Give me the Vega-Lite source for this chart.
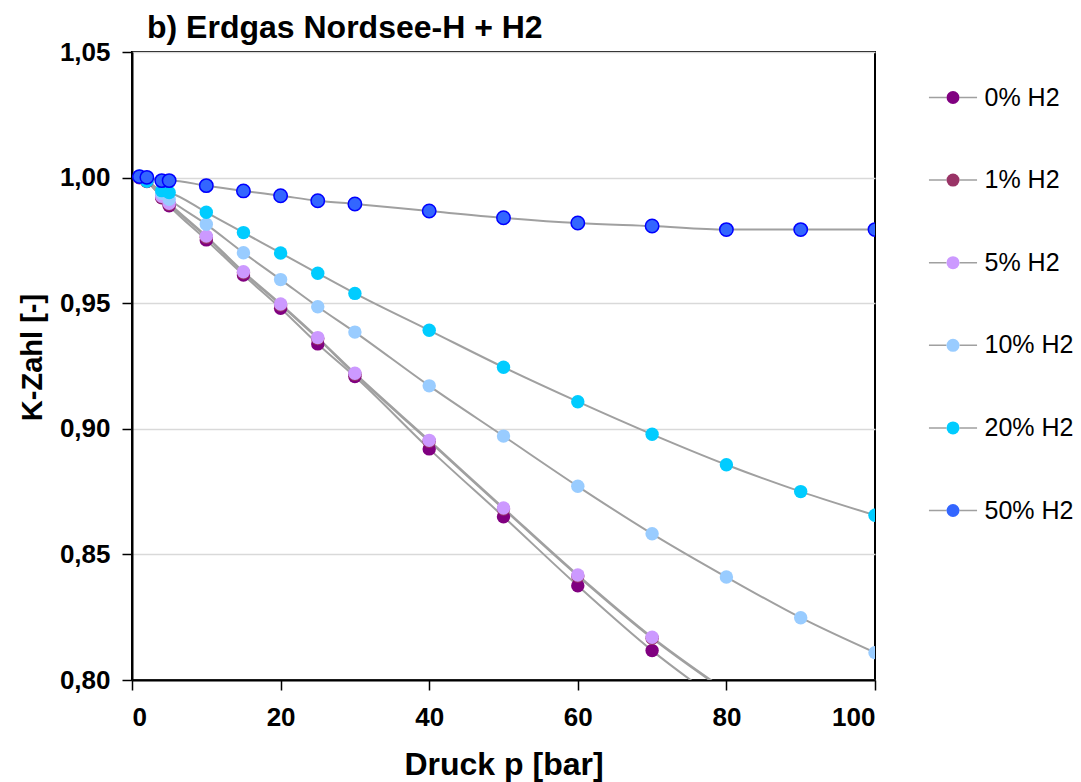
{
  "$schema": "https://vega.github.io/schema/vega-lite/v6.json",
  "width": 743,
  "height": 628,
  "autosize": {"type": "none"},
  "padding": {"left": 132, "top": 52, "right": 206, "bottom": 102},
  "background": "white",
  "config": {
    "font": "Liberation Sans",
    "view": {"stroke": "black", "strokeWidth": 2},
    "axis": {
      "domainColor": "black",
      "domainWidth": 2,
      "tickColor": "black",
      "tickWidth": 1.5,
      "tickSize": 10,
      "labelFont": "Liberation Sans",
      "labelFontWeight": "bold",
      "labelFontSize": 26,
      "labelColor": "black",
      "titleFont": "Liberation Sans",
      "titleFontWeight": "bold",
      "titleFontSize": 32,
      "titleColor": "black"
    },
    "legend": {"labelFont": "Liberation Sans", "labelColor": "black"}
  },
  "title": {
    "text": "b) Erdgas Nordsee-H + H2",
    "anchor": "start",
    "frame": "group",
    "dx": 15,
    "offset": -6,
    "font": "Liberation Sans",
    "fontSize": 32,
    "fontWeight": "bold",
    "color": "black"
  },
  "data": {
    "values": [
      {"s": "0% H2", "p": 1, "k": 1.0002},
      {"s": "0% H2", "p": 2, "k": 0.9985},
      {"s": "0% H2", "p": 4, "k": 0.9920},
      {"s": "0% H2", "p": 5, "k": 0.9888},
      {"s": "0% H2", "p": 10, "k": 0.9752},
      {"s": "0% H2", "p": 15, "k": 0.9612},
      {"s": "0% H2", "p": 20, "k": 0.9480},
      {"s": "0% H2", "p": 25, "k": 0.9338},
      {"s": "0% H2", "p": 30, "k": 0.9208},
      {"s": "0% H2", "p": 40, "k": 0.8920},
      {"s": "0% H2", "p": 50, "k": 0.8650},
      {"s": "0% H2", "p": 60, "k": 0.8375},
      {"s": "0% H2", "p": 70, "k": 0.8117},
      {"s": "0% H2", "p": 80, "k": 0.7897},
      {"s": "1% H2", "p": 1, "k": 0.9999},
      {"s": "1% H2", "p": 2, "k": 0.9984},
      {"s": "1% H2", "p": 4, "k": 0.9922},
      {"s": "1% H2", "p": 5, "k": 0.9894},
      {"s": "1% H2", "p": 10, "k": 0.9763},
      {"s": "1% H2", "p": 15, "k": 0.9621},
      {"s": "1% H2", "p": 20, "k": 0.9493},
      {"s": "1% H2", "p": 25, "k": 0.9359},
      {"s": "1% H2", "p": 30, "k": 0.9217},
      {"s": "1% H2", "p": 40, "k": 0.8950},
      {"s": "1% H2", "p": 50, "k": 0.8681},
      {"s": "1% H2", "p": 60, "k": 0.8414},
      {"s": "1% H2", "p": 70, "k": 0.8166},
      {"s": "1% H2", "p": 80, "k": 0.7953},
      {"s": "5% H2", "p": 1, "k": 1.0003},
      {"s": "5% H2", "p": 2, "k": 0.9988},
      {"s": "5% H2", "p": 4, "k": 0.9926},
      {"s": "5% H2", "p": 5, "k": 0.9898},
      {"s": "5% H2", "p": 10, "k": 0.9767},
      {"s": "5% H2", "p": 15, "k": 0.9625},
      {"s": "5% H2", "p": 20, "k": 0.9497},
      {"s": "5% H2", "p": 25, "k": 0.9363},
      {"s": "5% H2", "p": 30, "k": 0.9221},
      {"s": "5% H2", "p": 40, "k": 0.8954},
      {"s": "5% H2", "p": 50, "k": 0.8685},
      {"s": "5% H2", "p": 60, "k": 0.8418},
      {"s": "5% H2", "p": 70, "k": 0.8170},
      {"s": "5% H2", "p": 80, "k": 0.7957},
      {"s": "10% H2", "p": 1, "k": 1.0004},
      {"s": "10% H2", "p": 2, "k": 0.9990},
      {"s": "10% H2", "p": 4, "k": 0.9938},
      {"s": "10% H2", "p": 5, "k": 0.9914},
      {"s": "10% H2", "p": 10, "k": 0.9814},
      {"s": "10% H2", "p": 15, "k": 0.9701},
      {"s": "10% H2", "p": 20, "k": 0.9594},
      {"s": "10% H2", "p": 25, "k": 0.9486},
      {"s": "10% H2", "p": 30, "k": 0.9385},
      {"s": "10% H2", "p": 40, "k": 0.9171},
      {"s": "10% H2", "p": 50, "k": 0.8971},
      {"s": "10% H2", "p": 60, "k": 0.8771},
      {"s": "10% H2", "p": 70, "k": 0.8582},
      {"s": "10% H2", "p": 80, "k": 0.8410},
      {"s": "10% H2", "p": 90, "k": 0.8248},
      {"s": "10% H2", "p": 100, "k": 0.8109},
      {"s": "20% H2", "p": 1, "k": 1.0006},
      {"s": "20% H2", "p": 2, "k": 0.9985},
      {"s": "20% H2", "p": 4, "k": 0.9948},
      {"s": "20% H2", "p": 5, "k": 0.9941},
      {"s": "20% H2", "p": 10, "k": 0.9862},
      {"s": "20% H2", "p": 15, "k": 0.9781},
      {"s": "20% H2", "p": 20, "k": 0.9700},
      {"s": "20% H2", "p": 25, "k": 0.9619},
      {"s": "20% H2", "p": 30, "k": 0.9539},
      {"s": "20% H2", "p": 40, "k": 0.9392},
      {"s": "20% H2", "p": 50, "k": 0.9245},
      {"s": "20% H2", "p": 60, "k": 0.9108},
      {"s": "20% H2", "p": 70, "k": 0.8978},
      {"s": "20% H2", "p": 80, "k": 0.8857},
      {"s": "20% H2", "p": 90, "k": 0.8750},
      {"s": "20% H2", "p": 100, "k": 0.8656},
      {"s": "50% H2", "p": 1, "k": 1.0004},
      {"s": "50% H2", "p": 2, "k": 1.0001},
      {"s": "50% H2", "p": 4, "k": 0.9988},
      {"s": "50% H2", "p": 5, "k": 0.9988},
      {"s": "50% H2", "p": 10, "k": 0.9968},
      {"s": "50% H2", "p": 15, "k": 0.9947},
      {"s": "50% H2", "p": 20, "k": 0.9928},
      {"s": "50% H2", "p": 25, "k": 0.9908},
      {"s": "50% H2", "p": 30, "k": 0.9895},
      {"s": "50% H2", "p": 40, "k": 0.9867},
      {"s": "50% H2", "p": 50, "k": 0.9840},
      {"s": "50% H2", "p": 60, "k": 0.9819},
      {"s": "50% H2", "p": 70, "k": 0.9807},
      {"s": "50% H2", "p": 80, "k": 0.9793},
      {"s": "50% H2", "p": 90, "k": 0.9793},
      {"s": "50% H2", "p": 100, "k": 0.9793}
    ]
  },
  "encoding": {
    "x": {
      "field": "p",
      "type": "quantitative",
      "scale": {"domain": [0, 100], "nice": false, "zero": false},
      "axis": {
        "title": "Druck p [bar]",
        "values": [0, 20, 40, 60, 80, 100],
        "grid": false,
        "labelPadding": 14,
        "titleY": 94,
        "titleBaseline": "alphabetic"
      }
    },
    "y": {
      "field": "k",
      "type": "quantitative",
      "scale": {"domain": [0.8, 1.05], "nice": false, "zero": false},
      "axis": {
        "title": "K-Zahl [-]",
        "values": [0.8, 0.85, 0.9, 0.95, 1.0, 1.05],
        "labelExpr": "replace(format(datum.value, '.2f'), '.', ',')",
        "grid": true,
        "gridColor": "#D9D9D9",
        "gridWidth": 1.5,
        "labelPadding": 12,
        "titleFontSize": 29,
        "titleX": -91,
        "titleY": 305,
        "titleBaseline": "alphabetic"
      }
    }
  },
  "layer": [
    {
      "mark": {"type": "line", "interpolate": "monotone", "clip": true, "strokeWidth": 2},
      "encoding": {
        "stroke": {
          "field": "s",
          "type": "nominal",
          "sort": ["0% H2", "1% H2", "5% H2", "10% H2", "20% H2", "50% H2"],
          "scale": {"range": ["#A0A0A0", "#A0A0A0", "#A0A0A0", "#A0A0A0", "#A0A0A0", "#A0A0A0"]},
          "legend": {
            "orient": "none",
            "legendX": 808.5,
            "legendY": 33,
            "title": null,
            "symbolType": "M-3.7,0L-1,0M1,0L3.7,0",
            "symbolSize": 169,
            "symbolStrokeWidth": 1.5,
            "labelFontSize": 25,
            "labelOpacity": 0,
            "labelOffset": 19,
            "rowPadding": 56.6
          }
        }
      }
    },
    {
      "mark": {"type": "point", "filled": true, "size": 180, "opacity": 1, "clip": true, "strokeWidth": 1.5},
      "encoding": {
        "fill": {
          "field": "s",
          "type": "nominal",
          "scale": {
            "domain": ["0% H2", "1% H2", "5% H2", "10% H2", "20% H2", "50% H2"],
            "range": ["#800080", "#993366", "#CC99FF", "#99CCFF", "#00CCFF", "#3366FF"]
          },
          "legend": {
            "orient": "none",
            "legendX": 808.5,
            "legendY": 33,
            "title": null,
            "symbolType": "circle",
            "symbolSize": 169,
            "symbolOpacity": 1,
            "labelFontSize": 25,
            "labelOffset": 19,
            "rowPadding": 56.6,
            "encode": {
              "symbols": {
                "update": {
                  "stroke": {"signal": "datum.value === '50% H2' ? '#0000FF' : 'transparent'"},
                  "strokeWidth": {"value": 1.5}
                }
              }
            }
          }
        },
        "stroke": {
          "condition": {"test": "datum.s === '50% H2'", "value": "#0000FF"},
          "value": "transparent"
        }
      }
    }
  ]
}
